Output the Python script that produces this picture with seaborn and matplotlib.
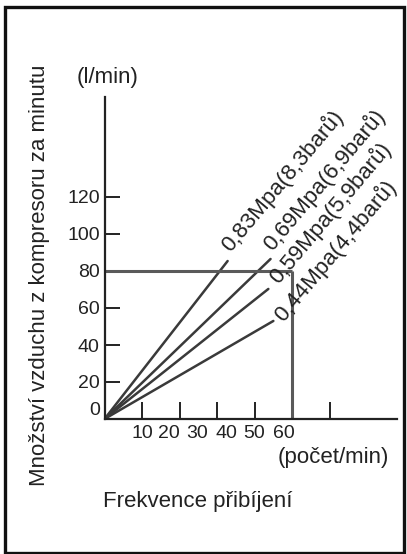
import matplotlib
matplotlib.use("Agg")
import matplotlib.pyplot as plt
import seaborn as sns
import pandas as pd
from matplotlib.patches import Rectangle

# ---- data ----
pressures = ["0,83Mpa(8,3barů)", "0,69Mpa(6,9barů)", "0,59Mpa(5,9barů)", "0,44Mpa(4,4barů)"]
ray_end_x = [39.3, 53.0, 52.3, 53.9]
ray_end_y = [85.4, 86.5, 70.3, 53.0]
label_x = [40.2, 53.6, 55.5, 57.1]
label_y = [89.9, 90.4, 72.4, 51.9]
ref_x = 60
ref_y = 80
y_ticks = [0, 20, 40, 60, 80, 100, 120]
x_tick_marks = [12, 24, 36, 48, 60, 72]
x_label_pos = [12.0, 20.5, 29.7, 38.8, 47.9, 57.2]
x_labels = ["10", "20", "30", "40", "50", "60"]

W, H = 407, 554
sns.set_theme(style="white")
plt.rcParams["font.family"] = ["Liberation Sans", "DejaVu Sans"]

fig = plt.figure(figsize=(W / 100, H / 100), dpi=100)
fig.patch.set_facecolor("white")

# axes: origin at pixel (104.5, 419), top of y axis at 97, right end of x axis at 397
ox, oy = 104.5, 419
ax = fig.add_axes([ox / W, (H - oy) / H, (397 - ox) / W, (oy - 97) / H])
ax.set_xlim(0, (397 - ox) / 3.133)
ax.set_ylim(0, (oy - 97) / 1.85)
ax.set_facecolor("none")

line_col = "#3a3a3a"
rows = []
for p, xe, ye in zip(pressures, ray_end_x, ray_end_y):
    rows.append({"p": p, "x": 0.0, "y": 0.0})
    rows.append({"p": p, "x": xe, "y": ye})
df = pd.DataFrame(rows)
sns.lineplot(data=df, x="x", y="y", hue="p", palette=[line_col] * 4,
             legend=False, ax=ax, linewidth=1.8, sort=False)

ref_col = "#5a5a5a"
ax.plot([0, ref_x], [ref_y, ref_y], color=ref_col, lw=2.2, solid_capstyle="butt")
ax.plot([ref_x, ref_x], [0, ref_y], color=ref_col, lw=2.2, solid_capstyle="butt")

for t, lx, ly in zip(pressures, label_x, label_y):
    ax.text(lx, ly, t, rotation=50, rotation_mode="anchor", ha="left", va="baseline",
            fontsize=16, color="#222222")

for s in ["top", "right"]:
    ax.spines[s].set_visible(False)
for s in ["left", "bottom"]:
    ax.spines[s].set_color("#222222")
    ax.spines[s].set_linewidth(1.6)

ax.set_yticks(y_ticks)
ax.set_yticklabels([str(v) for v in y_ticks])
ax.tick_params(axis="y", direction="in", length=10.5, width=1.4, colors="#222222",
               labelsize=14, pad=3.5, left=True)
ax.get_yticklabels()[0].set_va("bottom")

ax.xaxis.remove_overlapping_locs = False
ax.set_xticks(x_tick_marks)
ax.set_xticklabels([""] * len(x_tick_marks))
ax.tick_params(axis="x", which="major", direction="in", length=12, width=1.4,
               colors="#222222", bottom=True)
ax.set_xticks(x_label_pos, minor=True)
ax.set_xticklabels(x_labels, minor=True)
ax.tick_params(axis="x", which="minor", length=0, labelsize=14, pad=4,
               labelcolor="#222222", bottom=True)
ax.set_xlabel("")
ax.set_ylabel("")

tc = "#222222"
fig.text(108 / W, 1 - 77 / H, "(l/min)", ha="center", va="center", fontsize=16, color=tc)
fig.text(333 / W, 1 - 458 / H, "(počet/min)", ha="center", va="center", fontsize=16, color=tc)
fig.text(198 / W, 1 - 502 / H, "Frekvence přibíjení", ha="center", va="center", fontsize=16, color=tc)
fig.text(40 / W, 1 - 275 / H, "Množství vzduchu z kompresoru za minutu", rotation=90,
         ha="center", va="center", fontsize=16, color=tc)

fig.patches.append(Rectangle((4.5 / W, 1 - 552.5 / H), (404 - 4.5) / W, (552.5 - 7) / H,
                             transform=fig.transFigure, fill=False, lw=2.4,
                             edgecolor="#111111"))

fig.savefig("out.png", dpi=100, facecolor="white")
